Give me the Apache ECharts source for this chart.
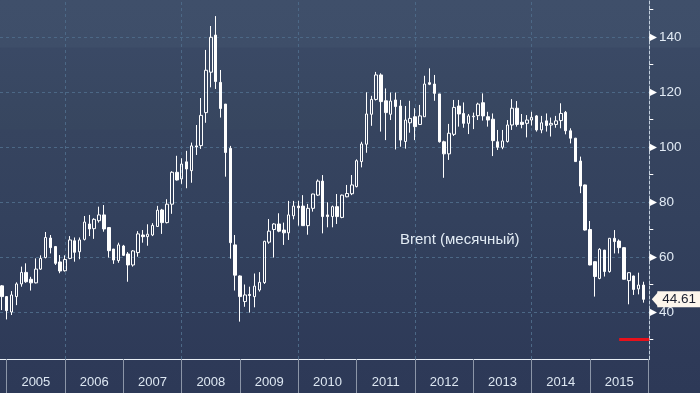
<!DOCTYPE html>
<html><head><meta charset="utf-8">
<script src="https://cdn.jsdelivr.net/npm/echarts@6/dist/echarts.min.js"></script>
<style>
html,body{margin:0;padding:0;background:#2d3957;}
#c{width:700px;height:393px;background:linear-gradient(to bottom,#3f4f6a 0px,#3e4e69 47px,#3a4965 48px,#37465f 129px,#36445f 130px,#33415d 220px,#303d5a 300px,#2e3a58 360px,#2d3957 393px);}
</style>
</head><body><div id="c"></div>
<script>
// Brent monthly candles, Nov 2004 .. Nov 2015 (index 0 = 2004-11)
const startMonth = '2004-11';
const open = [49.5,45.6,40.0,45.6,50.2,54.4,51.9,50.6,55.6,59.8,66.9,63.8,
58.2,55.0,59.5,65.9,61.9,66.4,72.0,70.3,73.2,75.3,70.7,62.9,
58.7,64.0,61.1,57.1,61.6,68.0,67.4,68.0,71.1,77.1,72.5,79.2,
90.8,88.4,94.6,91.4,100.4,100.5,112.5,127.2,140.7,123.5,115.6,99.5,
64.4,53.1,43.8,46.4,45.6,48.0,50.7,65.4,70.0,72.0,69.8,68.8,
75.0,78.5,78.5,71.4,77.7,82.5,87.6,75.3,74.7,78.3,74.4,81.9,
83.0,85.6,94.7,101.0,111.9,117.3,126.2,116.8,111.9,117.1,114.9,102.0,
108.8,111.0,108.2,111.0,123.4,122.9,119.3,101.9,97.5,104.6,114.9,112.2,
108.6,111.0,111.4,116.1,111.0,110.1,101.9,99.9,102.0,108.0,114.1,109.0,
108.6,109.8,111.3,106.2,109.5,108.0,108.2,109.6,112.6,105.9,103.2,94.9,
86.2,70.0,58.3,52.2,62.5,54.7,66.8,65.8,63.4,51.4,53.1,48.4,
49.8];
const close = [45.6,40.5,46.2,50.2,54.4,51.0,50.6,55.6,59.5,67.1,63.4,57.7,
54.9,59.1,66.2,61.7,66.2,72.7,70.2,73.7,75.3,70.2,62.3,58.9,
64.4,60.6,57.1,62.2,68.4,67.4,68.3,71.5,77.0,72.5,79.2,90.8,
88.0,93.8,92.0,100.4,100.0,111.5,127.9,139.9,123.8,114.0,98.0,65.2,
53.4,45.6,46.2,46.0,49.4,50.8,65.7,69.4,72.0,69.4,68.8,75.3,
78.5,77.9,71.4,77.7,82.9,87.6,74.7,74.7,78.3,74.7,82.5,83.1,
86.2,95.0,101.1,112.0,117.3,126.2,116.5,112.5,116.7,114.7,102.5,109.8,
110.4,107.4,111.3,122.9,122.8,119.5,101.9,97.5,105.0,114.4,112.0,108.6,
111.3,111.2,115.6,111.3,109.8,102.3,99.9,102.2,108.0,114.1,108.2,108.2,
109.8,110.8,106.2,108.8,107.8,108.6,109.5,112.2,105.9,103.2,94.7,85.8,
69.8,57.1,52.9,62.8,54.7,66.8,65.6,63.4,51.9,54.3,48.2,49.8,
44.61];
const low = [40.7,37.3,38.9,42.5,49.2,50.6,47.8,50.4,55.3,59.5,61.3,57.1,
54.1,54.7,59.2,58.3,59.2,66.0,67.6,66.6,72.5,69.2,59.8,57.5,
57.9,60.4,51.0,56.5,60.1,65.2,64.1,67.6,70.9,68.4,72.2,75.7,
87.8,86.6,85.0,87.0,97.1,99.3,108.8,121.7,121.1,110.7,89.2,59.4,
47.8,36.5,41.9,39.8,41.7,47.4,50.2,64.8,59.8,69.0,64.4,66.2,
73.7,71.4,71.4,68.1,76.5,82.2,68.6,70.8,70.8,72.0,74.1,81.7,
82.5,85.3,92.6,97.9,107.7,116.9,105.6,102.5,109.8,99.1,100.1,99.4,
105.2,102.5,108.0,111.0,122.5,116.8,101.6,88.8,95.3,104.0,107.4,107.0,
104.7,106.5,109.8,109.6,107.4,96.7,98.9,99.2,101.6,106.2,107.4,106.8,
103.5,107.8,105.6,105.0,105.6,103.8,107.0,106.8,104.6,101.3,94.6,83.2,
69.6,57.0,45.6,51.9,52.9,54.3,61.3,61.3,51.8,42.8,46.2,46.4,
43.4];
const high = [49.8,45.8,47.6,50.8,56.5,57.7,52.8,59.5,60.6,69.1,68.0,64.0,
60.7,60.6,67.6,67.1,67.1,74.9,75.3,74.1,78.3,78.9,70.7,62.9,
65.2,64.4,61.8,62.5,69.4,69.8,71.9,72.3,78.6,77.5,81.0,91.2,
96.8,95.9,98.6,101.6,108.0,117.8,135.3,144.0,147.6,128.0,115.6,100.4,
68.0,53.3,50.0,49.2,54.0,54.5,65.9,73.8,72.3,75.9,72.5,80.4,
80.4,80.4,82.5,79.3,83.0,88.2,89.8,79.9,78.7,82.9,82.7,86.2,
89.8,95.5,101.9,119.9,118.6,127.3,126.8,121.3,119.8,119.8,117.1,114.9,
116.8,114.1,115.3,125.9,128.6,126.2,119.3,102.3,108.4,117.1,117.1,116.2,
112.0,112.5,116.1,119.5,112.8,112.2,106.2,106.2,109.8,117.4,116.7,112.0,
111.6,112.8,111.6,111.3,112.2,110.7,111.3,115.9,113.1,106.8,103.3,96.5,
86.3,73.1,58.4,63.2,62.6,66.9,69.8,66.4,63.5,54.4,53.2,54.3,
51.0];

const years = [2005,2006,2007,2008,2009,2010,2011,2012,2013,2014,2015];
const yMajor = [40,60,80,100,120,140];
const yMinor = [30,50,70,90,110,130,150];
const forecastLevel = [30, 30];          // red marker level
const forecastSpan = [127, 133.2];       // month-index span of the red marker
const labelText = 'Brent (месячный)';

// month index helpers (index 0 = Nov 2004)
const yearStartIdx = y => (y - 2005) * 12 + 1;          // boundary drawn at December of previous year
const yearBounds = years.map(yearStartIdx).concat([yearStartIdx(2016)]);
const yearCenters = years.map(y => yearStartIdx(y) + 6);
const gridYears = [2006, 2008, 2010, 2012, 2014].map(yearStartIdx);

const xMin = -0.378, xMax = 133.2, yMin = 22.91, yMax = 153.45;
const FONT = '"Liberation Sans", Arial, sans-serif';
const last = close.length - 1;

const candles = open.map((o, i) => [i, o, close[i], low[i], high[i]]);

const chart = echarts.init(document.getElementById('c'), null, {renderer: 'canvas'});
chart.setOption({
  animation: false,
  backgroundColor: 'transparent',
  grid: {left: 0, right: 50.7, top: 0, bottom: 34},
  xAxis: [{
    type: 'value', min: xMin, max: xMax,
    axisLine: {show: true, onZero: false, lineStyle: {color: '#e8eef5', width: 1}},
    axisTick: {show: true, customValues: yearBounds, length: 34, lineStyle: {color: '#8c96a8'}},
    axisLabel: {customValues: yearCenters, formatter: v => String(years[Math.round((v - yearCenters[0]) / 12)]),
      color: '#dde7f2', fontSize: 13, fontFamily: FONT, margin: 17},
    splitLine: {show: false}
  }],
  yAxis: [{
    type: 'value', position: 'right', min: yMin, max: yMax,
    axisLine: {show: true, onZero: false, lineStyle: {color: '#c4d1df', type: [3, 2]}},
    axisTick: {show: false, customValues: yMajor},
    axisLabel: {customValues: yMajor, margin: 0,
      formatter: v => '{t|▶}{v|' + v + '}',
      rich: {t: {fontSize: 10, color: '#ffffff', fontFamily: '"DejaVu Sans"', padding: [0, 2, 0, 0]},
             v: {fontSize: 13.5, color: '#e2ebf5', fontFamily: FONT}}},
    splitLine: {show: true, lineStyle: {color: '#4c6886', type: [3, 3], width: 1}}
  }, {
    type: 'value', position: 'right', min: yMin, max: yMax,
    axisLine: {show: false, onZero: false}, axisLabel: {show: false}, splitLine: {show: false},
    axisTick: {show: true, customValues: yMinor, length: 4, lineStyle: {color: '#ffffff'}}
  }],
  graphic: [{
    type: 'text', left: 400, top: 232, z: 10,
    style: {text: labelText, fill: '#e3ecf5', font: '15px "Liberation Sans", Arial, sans-serif'}
  }],
  series: [{
    type: 'line', data: [[xMin, yMin]], symbol: 'none', lineStyle: {opacity: 0}, z: 1, silent: true,
    markLine: {
      silent: true, symbol: ['none', 'none'], z: 1, label: {show: false},
      lineStyle: {color: '#4c6886', type: [3, 3], width: 1},
      data: gridYears.map(v => ({xAxis: v}))
    }
  }, {
    type: 'candlestick', data: candles, barWidth: 3, z: 3,
    itemStyle: {color: 'transparent', color0: '#ffffff', borderColor: '#ffffff', borderColor0: '#ffffff', borderWidth: 1}
  }, {
    type: 'line', data: [[forecastSpan[0], forecastLevel[0]], [forecastSpan[1], forecastLevel[1]]],
    symbol: 'none', lineStyle: {color: '#e8111b', width: 3}, z: 4, silent: true,
    markLine: {
      silent: true, symbol: ['none', 'none'], z: 6,
      lineStyle: {color: 'rgba(0,0,0,0)', width: 0},
      data: [{yAxis: close[last]}],
      label: {show: true, position: 'end', distance: 8, formatter: () => close[last].toFixed(2),
        backgroundColor: '#fdf6ec', color: '#1b2030', fontSize: 13.5, fontFamily: FONT,
        lineHeight: 14, padding: [1, 4, 1, 5]}
    },
    markPoint: {
      silent: true, z: 6,
      data: [{coord: [xMax, close[last]]}],
      symbol: 'triangle', symbolSize: [16, 7], symbolRotate: 90, symbolOffset: [6, 0],
      itemStyle: {color: '#fdf6ec'}, label: {show: false}
    }
  }]
});
</script></body></html>
